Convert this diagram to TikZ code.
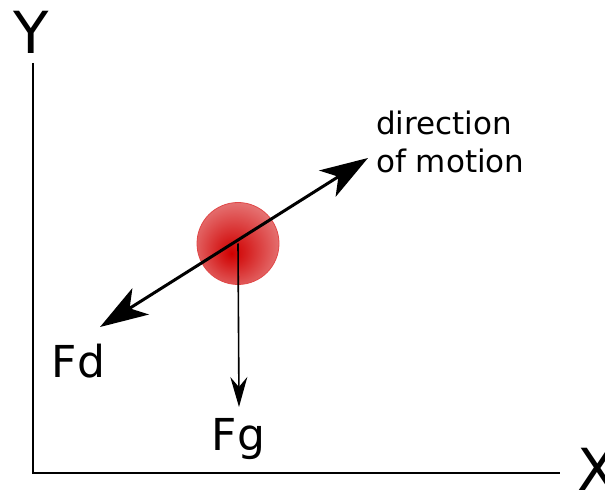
\documentclass[tikz,border=0pt]{standalone}
\usepackage{fontspec}
\setmainfont{DejaVu Sans}
\usepackage{xcolor}
\usepackage{tikz}
\usetikzlibrary{arrows.meta,positioning,calc}
\definecolor{figblack}{HTML}{000000}
\definecolor{figred}{HTML}{D00000}
\definecolor{figrim}{HTML}{E04848}
\pgfdeclareradialshading{ballshade}{\pgfpoint{-4bp}{-6bp}}{%
  color(0bp)=(figred); color(8bp)=(figred!88!white);
  color(28bp)=(figred!55!white); color(50bp)=(figred!38!white)}

\begin{document}
\begin{tikzpicture}[x=1pt,y=-1pt]
\useasboundingbox (0,0) rectangle (605,494);

% axes
\coordinate (origin) at (33,473);
\coordinate (ytop) at (33,63);
\coordinate (xend) at (560,473);
\draw[line width=2pt, color=figblack] (ytop) -- (origin) -- (xend);

\node[text=figblack, font=\fontsize{58}{60}\selectfont, anchor=base, inner sep=0pt] (ylabel) at (31,54) {Y};
\node[text=figblack, font=\fontsize{58}{60}\selectfont, anchor=base, inner sep=0pt] (xlabel) at (597,490) {X};

% ball
\node[
  circle,
  draw=figrim,
  line width=0.8pt,
  shading=ballshade,
  minimum size=82pt,
  inner sep=0pt
] (ball) at (238,243.5) {};

% direction of motion / drag
\coordinate (fdtip) at (100,327);
\coordinate (motiontip) at (368,158);
\draw[{Stealth[length=48pt,width=31pt,inset=13pt]}-{Stealth[length=48pt,width=31pt,inset=13pt]},
  line width=3pt, color=figblack] (fdtip) -- (motiontip);

% gravity
\coordinate (fgtip) at (239,407);
\draw[-{Stealth[length=30pt,width=17pt,inset=10pt]}, line width=1.6pt, color=figblack]
  (ball.center) -- (fgtip);

\node[text=figblack, font=\fontsize{44}{48}\selectfont, anchor=base, inner sep=0pt] (fd) at (78.5,377) {Fd};
\node[text=figblack, font=\fontsize{44}{48}\selectfont, anchor=base, inner sep=0pt] (fg) at (238.5,450) {Fg};
\node[text=figblack, font=\fontsize{31}{38}\selectfont, align=left, anchor=base west, inner sep=0pt]
  (motion) at (376,173) {direction\\of motion};
\end{tikzpicture}
\end{document}
